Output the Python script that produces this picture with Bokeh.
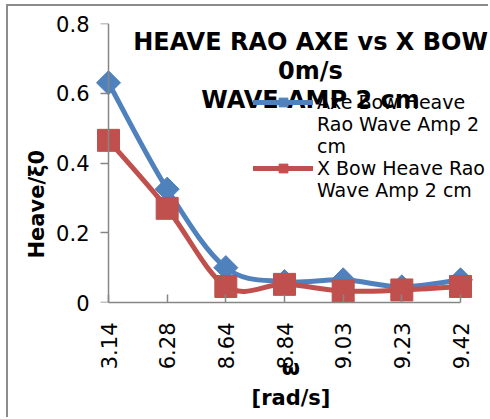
import numpy as np
from bokeh.plotting import figure
from bokeh.models import (Range1d, FixedTicker, Legend, LegendItem, Label,
                          LinearAxis, Title)
from bokeh.embed import file_html
from bokeh.resources import INLINE

# ---------------- data ----------------
categories = ["3.14", "6.28", "8.64", "8.84", "9.03", "9.23", "9.42"]
axe_bow = [0.63, 0.325, 0.10, 0.06, 0.065, 0.045, 0.065]
x_bow = [0.465, 0.27, 0.046, 0.052, 0.033, 0.036, 0.046]
y_ticks = [0, 0.2, 0.4, 0.6, 0.8]
y_tick_labels = ["0", "0.2", "0.4", "0.6", "0.8"]
legend_lines_axe = ["Axe Bow Heave", "Rao Wave Amp 2", "cm"]
legend_lines_xbow = ["X Bow Heave Rao", "Wave Amp 2 cm"]
title_text = "HEAVE RAO AXE vs X BOW\n0m/s\nWAVE AMP 2 cm"
y_title = "Heave/\u03be0"
x_title = "\u03c9\n[rad/s]"

FONT = "DejaVu Sans"
BLUE = "#4F81BD"
RED = "#C0504D"
AXIS = "#868686"

# page layout (page pixels)
OX, OY = 8, 6                      # canvas origin inside the page (after border)
PAGE_W, PAGE_H = 490, 419
F_LEFT, F_RIGHT, F_TOP, F_BOTTOM = 93, 488, 23, 302
X0_PX, X6_PX = 108, 460           # first / last category position
unit = (X6_PX - X0_PX) / (len(categories) - 1)

W, H = PAGE_W - OX, PAGE_H - OY
p = figure(width=W, height=H, output_backend="svg", toolbar_location=None,
           x_range=Range1d(-(X0_PX - F_LEFT) / unit,
                           (len(categories) - 1) + (F_RIGHT - X6_PX) / unit),
           y_range=Range1d(0, 0.8),
           min_border_left=F_LEFT - OX, min_border_right=PAGE_W - F_RIGHT,
           min_border_top=F_TOP - OY, min_border_bottom=PAGE_H - F_BOTTOM)
p.outline_line_color = None
p.grid.visible = False
p.background_fill_color = "white"
p.border_fill_color = "white"
p.styles = {"margin-left": "6px", "margin-top": "4px",
            "border-left": "2px solid #8c8c8c", "border-top": "2px solid #8c8c8c"}

xs = np.arange(len(categories), dtype=float)


def smooth(ys):
    ys = np.asarray(ys, dtype=float)
    n = len(ys)
    px = np.concatenate([[xs[0]], xs, [xs[-1]]])
    py = np.concatenate([[ys[0]], ys, [ys[-1]]])
    P0x, P1x, P2x, P3x = px[0:n - 1], px[1:n], px[2:n + 1], px[3:n + 2]
    P0y, P1y, P2y, P3y = py[0:n - 1], py[1:n], py[2:n + 1], py[3:n + 2]
    return dict(x0=P1x, y0=P1y, x1=P2x, y1=P2y,
                cx0=P1x + (P2x - P0x) / 6, cy0=P1y + (P2y - P0y) / 6,
                cx1=P2x - (P3x - P1x) / 6, cy1=P2y - (P3y - P1y) / 6)


blue_curve = p.bezier(**smooth(axe_bow), line_color=BLUE, line_width=5, line_cap="round")
blue_pts = p.scatter(xs, axe_bow, marker="square", angle=np.pi / 4, size=17,
                     fill_color=BLUE, line_color=BLUE)
red_curve = p.bezier(**smooth(x_bow), line_color=RED, line_width=5, line_cap="round")
red_pts = p.scatter(xs, x_bow, marker="square", size=22,
                    fill_color=RED, line_color=RED)

# ---------------- x axis ----------------
xa = p.xaxis[0]
xa.ticker = FixedTicker(ticks=list(xs))
xa.major_label_overrides = {int(i): c for i, c in enumerate(categories)}
xa.bounds = (0, len(categories) - 1)
xa.major_label_orientation = np.pi / 2
xa.major_tick_in = 8
xa.major_tick_out = 0
xa.minor_tick_line_color = None
xa.major_label_standoff = 20
xa.axis_line_color = AXIS
xa.major_tick_line_color = AXIS
xa.axis_line_width = 1.5
xa.major_tick_line_width = 1.5
xa.major_label_text_font = FONT
xa.major_label_text_font_size = "21px"
xa.major_label_text_color = "black"
xa.axis_label = x_title
xa.axis_label_text_font = FONT
xa.axis_label_text_font_style = "bold"
xa.axis_label_text_font_size = "21px"
xa.axis_label_text_color = "black"
xa.axis_label_text_line_height = 1.23
xa.axis_label_standoff = -16

# ---------------- y axis: line + ticks placed at the first category ----------------
ya = p.yaxis[0]
ya.ticker = FixedTicker(ticks=y_ticks)
ya.major_label_overrides = {t: "" for t in y_ticks}
ya.major_label_text_font_size = "1px"
ya.fixed_location = 0
ya.major_tick_in = 0
ya.major_tick_out = 8
ya.major_label_standoff = 0
ya.minor_tick_line_color = None
ya.axis_line_color = AXIS
ya.major_tick_line_color = AXIS
ya.axis_line_width = 1.5
ya.major_tick_line_width = 1.5

# y tick labels (side-panel axis, no line)
yl = LinearAxis(ticker=FixedTicker(ticks=y_ticks),
                major_label_overrides=dict(zip(y_ticks, y_tick_labels)),
                axis_line_color=None, major_tick_line_color=None,
                minor_tick_line_color=None, major_tick_in=0, major_tick_out=0,
                major_label_standoff=4,
                major_label_text_font=FONT, major_label_text_font_size="21px",
                major_label_text_color="black")
p.add_layout(yl, "left")

# y axis title (its lower end sits at page y = 258)
p.add_layout(Title(text=y_title, align="left", offset=F_BOTTOM - 258,
                   vertical_align="top", standoff=6, text_font=FONT,
                   text_font_style="bold", text_font_size="21px",
                   text_color="black"), "left")

# chart title (over the plot area)
p.add_layout(Label(x=310 - F_LEFT, y=F_BOTTOM - 70.5, x_units="screen", y_units="screen",
                   text=title_text, text_align="center", text_baseline="middle",
                   text_font=FONT, text_font_style="bold", text_font_size="24px",
                   text_color="black", text_line_height=1.02))

# legend (one row per text line, as in the reference)
items = [LegendItem(label=legend_lines_axe[0], renderers=[blue_curve, blue_pts])]
items += [LegendItem(label=t, renderers=[]) for t in legend_lines_axe[1:]]
items += [LegendItem(label=legend_lines_xbow[0], renderers=[red_curve, red_pts])]
items += [LegendItem(label=t, renderers=[]) for t in legend_lines_xbow[1:]]
legend = Legend(items=items,
                location=(253 - F_LEFT, F_BOTTOM - 201),
                glyph_width=60, glyph_height=22, label_height=22, label_standoff=4,
                padding=0, margin=0, spacing=0,
                border_line_alpha=0, background_fill_alpha=0,
                label_text_font=FONT, label_text_font_size="19px",
                label_text_color="black")
p.add_layout(legend, "center")

open("out.html", "w").write(file_html(p, INLINE))
